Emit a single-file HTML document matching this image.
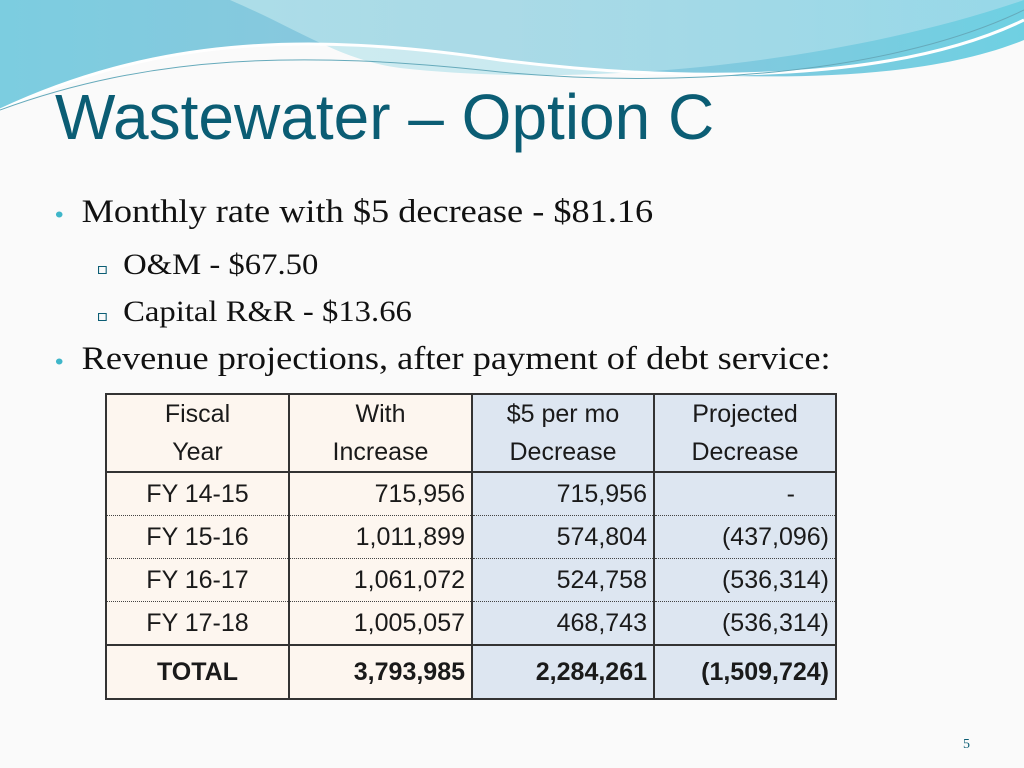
<!DOCTYPE html>
<html><head><meta charset="utf-8"><style>
body{margin:0;width:1024px;height:768px;overflow:hidden;background:#fafafa;position:relative;font-family:"Liberation Sans",sans-serif}
.abs{position:absolute}
#title{left:55px;top:80px;font-size:64px;color:#0b5d74;white-space:nowrap;transform:scaleX(1.0);transform-origin:left top}
.b1{font-family:"Liberation Serif",serif;font-size:33px;color:#111;white-space:nowrap;transform:scaleX(1.1);transform-origin:left top}
.b2{font-family:"Liberation Serif",serif;font-size:30px;color:#111;white-space:nowrap;transform:scaleX(1.09);transform-origin:left top}
.dot{color:#3fb6c9;font-family:"Liberation Sans",sans-serif;font-size:22px}
.sq{width:6px;height:6px;border:1.5px solid #0b5d74;display:inline-block}
table{position:absolute;left:105px;top:393px;border-collapse:collapse;font-size:25px;color:#1a1a1a}
td{border:2px solid #333;padding:0 6px;height:42px;}
td.c1,td.c2{background:#fdf6ef}td.c3,td.c4{background:#dde6f1}
tr.r td{border-top:1px dotted #444;border-bottom:1px dotted #444}
tr.h td{height:73px;text-align:center;line-height:38px}
tr.t td{height:52px;font-weight:bold;border-top:2px solid #333}
td.n{text-align:right}td.c1{text-align:center}
</style></head><body>
<svg class="abs" style="left:0;top:0" width="1024" height="120">
<defs><linearGradient id="g1" x1="0" x2="1"><stop offset="0" stop-color="#7ccde0"/><stop offset="0.5" stop-color="#8ec5dc"/><stop offset="1" stop-color="#6fd0e2"/></linearGradient>
<linearGradient id="g2" x1="0" x2="1"><stop offset="0" stop-color="#bde6ec"/><stop offset="1" stop-color="#a8dcea"/></linearGradient></defs>
<path d="M0,0 H1024 V40 C900,90 700,80 500,60 C300,30 150,40 0,110 Z" fill="url(#g1)"/>
<path d="M230,0 C300,30 340,60 400,68 C600,90 850,60 1024,0 Z" fill="url(#g2)" opacity="0.7"/>
<path d="M0,110 C150,40 300,30 500,60 C700,85 900,80 1024,20" stroke="#fff" stroke-width="3" fill="none"/>
<path d="M0,110 C150,55 300,50 500,72 C700,90 900,70 1024,10" stroke="#6ab" stroke-width="1" fill="none"/>
</svg>
<div id="title" class="abs">Wastewater – Option C</div>
<div class="abs b1" style="left:55px;top:194px"><span class="dot">•</span>&nbsp; Monthly rate with $5 decrease - $81.16</div>
<div class="abs b2" style="left:98px;top:248px"><span class="sq"></span>&nbsp; O&amp;M - $67.50</div>
<div class="abs b2" style="left:98px;top:295px"><span class="sq"></span>&nbsp; Capital R&amp;R - $13.66</div>
<div class="abs b1" style="left:55px;top:341px"><span class="dot">•</span>&nbsp; Revenue projections, after payment of debt service:</div>
<table>
<colgroup><col style="width:183px"><col style="width:183px"><col style="width:182px"><col style="width:182px"></colgroup>
<tr class="h"><td class="c1">Fiscal<br>Year</td><td class="c2" style="text-align:center">With<br>Increase</td><td class="c3" style="text-align:center">$5 per mo<br>Decrease</td><td class="c4" style="text-align:center">Projected<br>Decrease</td></tr>
<tr class="r"><td class="c1">FY 14-15</td><td class="c2 n">715,956</td><td class="c3 n">715,956</td><td class="c4 n" style="padding-right:40px">-</td></tr>
<tr class="r"><td class="c1">FY 15-16</td><td class="c2 n">1,011,899</td><td class="c3 n">574,804</td><td class="c4 n">(437,096)</td></tr>
<tr class="r"><td class="c1">FY 16-17</td><td class="c2 n">1,061,072</td><td class="c3 n">524,758</td><td class="c4 n">(536,314)</td></tr>
<tr class="r"><td class="c1">FY 17-18</td><td class="c2 n">1,005,057</td><td class="c3 n">468,743</td><td class="c4 n">(536,314)</td></tr>
<tr class="t"><td class="c1">TOTAL</td><td class="c2 n">3,793,985</td><td class="c3 n">2,284,261</td><td class="c4 n">(1,509,724)</td></tr>
</table>
<div class="abs" style="left:963px;top:737px;font-size:14px;color:#0b5d74;font-family:'Liberation Serif',serif">5</div>
</body></html>
